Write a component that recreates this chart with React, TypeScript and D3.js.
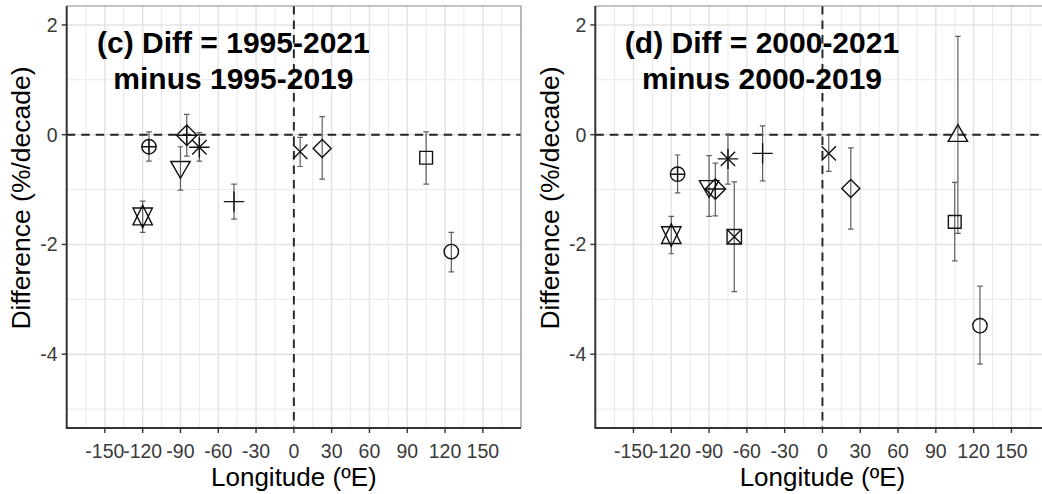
import React from "react";
import * as d3 from "d3";

// ---------- axis ticks ----------
const xTicks = [-150, -120, -90, -60, -30, 0, 30, 60, 90, 120, 150];
const xMinor = [-165, -135, -105, -75, -45, -15, 15, 45, 75, 105, 135, 165];
const yTicks = [-4, -2, 0, 2];
const yMinor = [-5, -3, -1, 1];

// ---------- panel (c) ----------
const cTitle = ["(c) Diff = 1995-2021", "minus 1995-2019"];
const cShape = [10, 9, 8, 6, 11, 3, 4, 5, 0, 1];
const cLon = [-115, -85, -75, -90, -120, -47.5, 5, 22.5, 105, 125];
const cVal = [-0.22, -0.01, -0.23, -0.59, -1.49, -1.22, -0.31, -0.25, -0.42, -2.13];
const cLo = [-0.48, -0.39, -0.48, -1.01, -1.78, -1.54, -0.58, -0.81, -0.9, -2.5];
const cHi = [0.05, 0.37, 0.04, -0.22, -1.21, -0.9, -0.05, 0.33, 0.05, -1.78];

// ---------- panel (d) ----------
const dTitle = ["(d) Diff = 2000-2021", "minus 2000-2019"];
const dShape = [10, 11, 6, 9, 8, 7, 3, 4, 5, 2, 0, 1];
const dLon = [-115, -120, -90, -85, -75, -70, -47.5, 5, 22.5, 107.5, 105, 125];
const dVal = [-0.72, -1.83, -0.94, -0.99, -0.44, -1.86, -0.34, -0.34, -0.98, -0.02, -1.59, -3.48];
const dLo = [-1.06, -2.17, -1.49, -1.48, -0.9, -2.86, -0.84, -0.67, -1.72, -1.8, -2.3, -4.18];
const dHi = [-0.37, -1.49, -0.38, -0.52, 0.01, -0.86, 0.16, -0.01, -0.24, 1.79, -0.87, -2.76];

const xLabel = "Longitude (ºE)";
const yLabel = "Difference (%/decade)";

const FONT = "'Liberation Sans', Arial, Helvetica, sans-serif";
const PANEL_TOP = 6;
const PANEL_BOTTOM = 428;
const PANEL_W = 454.3;
const R = 7.2;

function shapeEls(code: number, cx: number, cy: number, key: string) {
  const st = { fill: "none", stroke: "#111", strokeWidth: 1.4 };
  const els: any[] = [];
  const P = (d: string, k: string) => els.push(<path key={key + k} d={d} {...st} />);
  const C = (r: number, k: string) => els.push(<circle key={key + k} cx={cx} cy={cy} r={r} {...st} />);
  const plus = (h: number) => `M${cx - h},${cy}H${cx + h}M${cx},${cy - h}V${cy + h}`;
  const times = (h: number) => `M${cx - h},${cy - h}L${cx + h},${cy + h}M${cx - h},${cy + h}L${cx + h},${cy - h}`;
  const sq = (h: number) => `M${cx - h},${cy - h}H${cx + h}V${cy + h}H${cx - h}Z`;
  const dia = (h: number) => `M${cx},${cy - h}L${cx + h},${cy}L${cx},${cy + h}L${cx - h},${cy}Z`;
  const tr0 = 1.555 * R, tr1 = 1.347 * R, tr2 = 0.778 * R;
  switch (code) {
    case 0: P(sq(0.886 * R), "s"); break;
    case 1: C(R, "c"); break;
    case 2: P(`M${cx},${cy - tr0}L${cx + tr1},${cy + tr2}L${cx - tr1},${cy + tr2}Z`, "t"); break;
    case 3: P(plus(Math.SQRT2 * R), "p"); break;
    case 4: P(times(R), "x"); break;
    case 5: P(dia(1.253 * R), "d"); break;
    case 6: P(`M${cx},${cy + tr0}L${cx + tr1},${cy - tr2}L${cx - tr1},${cy - tr2}Z`, "t"); break;
    case 7: P(sq(R), "s"); P(times(R), "x"); break;
    case 8: P(times(R), "x"); P(plus(Math.SQRT2 * R), "p"); break;
    case 9: P(dia(Math.SQRT2 * R), "d"); P(plus(Math.SQRT2 * R), "p"); break;
    case 10: C(R, "c"); P(plus(R), "p"); break;
    case 11: {
      const yc = 0.5 * (tr2 + tr0);
      P(`M${cx},${cy - tr0}L${cx + tr1},${cy + yc}L${cx - tr1},${cy + yc}Z`, "a");
      P(`M${cx},${cy + tr0}L${cx + tr1},${cy - yc}L${cx - tr1},${cy - yc}Z`, "b");
      break;
    }
  }
  return els;
}

function Panel(props: {
  left: number; title: string[]; shape: number[]; lon: number[]; val: number[]; lo: number[]; hi: number[]; id: string;
}) {
  const { left, title, shape, lon, val, lo, hi, id } = props;
  const x = d3.scaleLinear().domain([-180.3, 180.3]).range([left, left + PANEL_W]);
  const y = d3.scaleLinear().domain([-5.345, 2.345]).range([PANEL_BOTTOM, PANEL_TOP]);
  const x0 = left, x1 = left + PANEL_W;
  const tickFont = 19.5;
  return (
    <g>
      <defs>
        <clipPath id={"clip" + id}>
          <rect x={x0} y={PANEL_TOP} width={PANEL_W} height={PANEL_BOTTOM - PANEL_TOP} />
        </clipPath>
      </defs>
      <rect x={x0} y={PANEL_TOP} width={PANEL_W} height={PANEL_BOTTOM - PANEL_TOP} fill="#fff" />
      <g clipPath={`url(#clip${id})`}>
        {xMinor.map((v) => (
          <line key={"xm" + v} x1={x(v)} x2={x(v)} y1={PANEL_TOP} y2={PANEL_BOTTOM} stroke="#e9e9e9" strokeWidth={1} />
        ))}
        {yMinor.map((v) => (
          <line key={"ym" + v} x1={x0} x2={x1} y1={y(v)} y2={y(v)} stroke="#e9e9e9" strokeWidth={1} />
        ))}
        {xTicks.map((v) => (
          <line key={"xM" + v} x1={x(v)} x2={x(v)} y1={PANEL_TOP} y2={PANEL_BOTTOM} stroke="#e3e3e3" strokeWidth={1.4} />
        ))}
        {yTicks.map((v) => (
          <line key={"yM" + v} x1={x0} x2={x1} y1={y(v)} y2={y(v)} stroke="#e3e3e3" strokeWidth={1.4} />
        ))}
        {/* reference dashed lines */}
        <line x1={x0} x2={x1} y1={y(0)} y2={y(0)} stroke="#222" strokeWidth={1.9} strokeDasharray="8.5 6" />
        <line x1={x(0)} x2={x(0)} y1={PANEL_TOP} y2={PANEL_BOTTOM} stroke="#222" strokeWidth={1.9} strokeDasharray="8.5 6" />
        {/* error bars */}
        {lon.map((L, i) => (
          <g key={"e" + i} stroke="#5e5e5e" strokeWidth={1.2}>
            <line x1={x(L)} x2={x(L)} y1={y(lo[i])} y2={y(hi[i])} />
            <line x1={x(L) - 2.8} x2={x(L) + 2.8} y1={y(lo[i])} y2={y(lo[i])} />
            <line x1={x(L) - 2.8} x2={x(L) + 2.8} y1={y(hi[i])} y2={y(hi[i])} />
          </g>
        ))}
        {/* points */}
        {lon.map((L, i) => shapeEls(shape[i], x(L), y(val[i]), id + "p" + i))}
      </g>
      {/* panel border (top, right) */}
      <path d={`M${x0},${PANEL_TOP}H${x1}V${PANEL_BOTTOM}`} fill="none" stroke="#8a8a8a" strokeWidth={1.2} />
      {/* axis lines */}
      <path d={`M${x0},${PANEL_TOP}V${PANEL_BOTTOM}H${x1}`} fill="none" stroke="#333" strokeWidth={2} />
      {/* y ticks */}
      {yTicks.map((v) => (
        <g key={"yt" + v}>
          <line x1={x0 - 5} x2={x0} y1={y(v)} y2={y(v)} stroke="#333" strokeWidth={1.4} />
          <text x={x0 - 9} y={y(v) + 7} textAnchor="end" fontSize={tickFont} fill="#3a3a3a" fontFamily={FONT}>
            {v}
          </text>
        </g>
      ))}
      {/* x ticks */}
      {xTicks.map((v) => (
        <g key={"xt" + v}>
          <line x1={x(v)} x2={x(v)} y1={PANEL_BOTTOM} y2={PANEL_BOTTOM + 5} stroke="#333" strokeWidth={1.4} />
          <text x={x(v)} y={457.5} textAnchor="middle" fontSize={tickFont} fill="#3a3a3a" fontFamily={FONT}>
            {v}
          </text>
        </g>
      ))}
      {/* axis titles */}
      <text x={(x0 + x1) / 2} y={486} textAnchor="middle" fontSize={26} fill="#000" fontFamily={FONT}>
        {xLabel}
      </text>
      <text
        transform={`translate(${x0 - 36.5},198) rotate(-90)`}
        textAnchor="middle"
        fontSize={26.5}
        fill="#000"
        fontFamily={FONT}
      >
        {yLabel}
      </text>
      {/* in-panel title */}
      <text x={x(-48)} y={y(1.48)} textAnchor="middle" fontSize={30} fontWeight="bold" fill="#000" fontFamily={FONT}>
        {title[0]}
      </text>
      <text x={x(-48)} y={y(0.84)} textAnchor="middle" fontSize={30} fontWeight="bold" fill="#000" fontFamily={FONT}>
        {title[1]}
      </text>
    </g>
  );
}

export default function App() {
  return (
    <svg
      width={1042}
      height={494}
      viewBox="0 0 1042 494"
      style={{ position: "absolute", left: 0, top: 0, background: "#fff" }}
    >
      <rect width={1042} height={494} fill="#fff" />
      <Panel left={66.7} id="c" title={cTitle} shape={cShape} lon={cLon} val={cVal} lo={cLo} hi={cHi} />
      <Panel left={595.3} id="d" title={dTitle} shape={dShape} lon={dLon} val={dVal} lo={dLo} hi={dHi} />
    </svg>
  );
}
